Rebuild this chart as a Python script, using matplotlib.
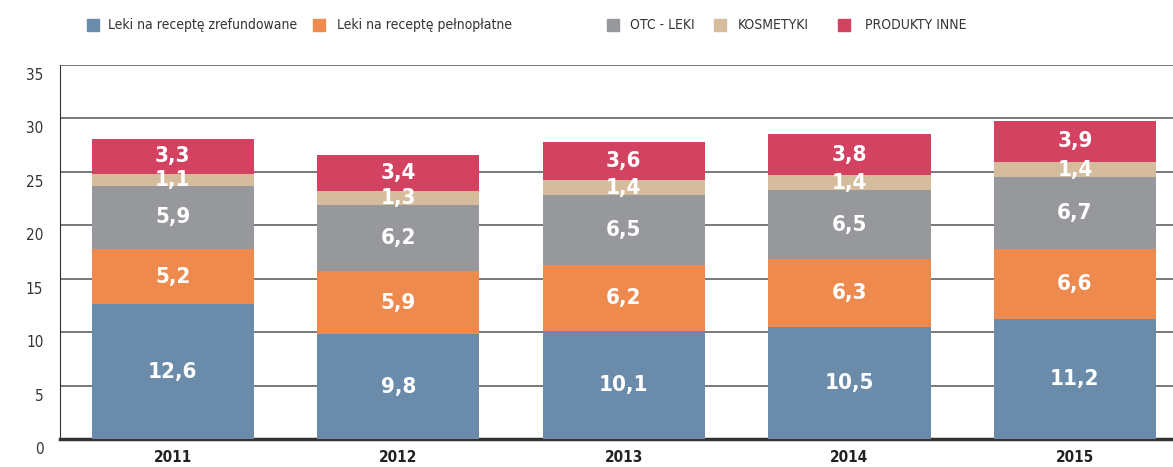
import matplotlib.pyplot as plt
import matplotlib.transforms as mtransforms
from matplotlib.patches import Rectangle
import numpy as np

years = ["2011", "2012", "2013", "2014", "2015"]
series_names = ["Leki na receptę zrefundowane", "Leki na receptę pełnopłatne",
                "OTC - LEKI", "KOSMETYKI", "PRODUKTY INNE"]
refund = [12.6, 9.8, 10.1, 10.5, 11.2]
full_pay = [5.2, 5.9, 6.2, 6.3, 6.6]
otc = [5.9, 6.2, 6.5, 6.5, 6.7]
cosmetics = [1.1, 1.3, 1.4, 1.4, 1.4]
other = [3.3, 3.4, 3.6, 3.8, 3.9]

colors = ["#6a8caa", "#ee8a4e", "#97989c", "#d4bc9c", "#d44262"]

plt.rcParams["font.family"] = ["DejaVu Sans"]
plt.rcParams["font.stretch"] = "condensed"

W, H = 1173, 467
fig = plt.figure(figsize=(W / 100, H / 100), dpi=100)
ax = fig.add_axes([60 / W, 1 - 439 / H, 1 - 60 / W, (439 - 65) / H])

x = np.arange(len(years))
bottom = np.zeros(len(years))
for name, vals, col in zip(series_names, [refund, full_pay, otc, cosmetics, other], colors):
    vals = np.array(vals)
    ax.bar(x, vals, width=0.72, bottom=bottom, color=col, label=name, zorder=3)
    for xi, b, v in zip(x, bottom, vals):
        ax.text(xi, b + v / 2, f"{v:.1f}".replace(".", ","), ha="center", va="center",
                color="white", fontsize=16, fontweight="bold", zorder=4)
    bottom += vals

ax.set_xlim(-0.5, 4.435)
ax.set_ylim(0, 35)
ax.set_yticks(range(0, 36, 5))
ax.yaxis.grid(True, color="#555555", linewidth=1.1, zorder=0)
ax.tick_params(length=0, labelsize=11, colors="#333333")
ax.tick_params(axis="y", pad=12)
ax.tick_params(axis="x", pad=8)
ax.set_xticks(x)
ax.set_xticklabels(years, fontweight="bold", fontsize=11, color="#222222")
# y labels sit just below their gridlines
offset = mtransforms.ScaledTranslation(0, -9 / 100, fig.dpi_scale_trans)
for lbl in ax.get_yticklabels():
    lbl.set_transform(lbl.get_transform() + offset)
for s in ["top", "right"]:
    ax.spines[s].set_visible(False)
ax.spines["left"].set_color("#333333")
ax.spines["bottom"].set_color("#333333")
ax.spines["bottom"].set_linewidth(2.5)

# legend drawn by hand to match spacing
sq_x = [87, 313, 607, 714, 838]
txt_x = [108, 337, 630, 738, 865]
ly = 25
for name, col, sx, tx in zip(series_names, colors, sq_x, txt_x):
    fig.patches.append(Rectangle((sx / W, 1 - (ly + 6) / H), 12 / W, 12 / H,
                                 transform=fig.transFigure, color=col))
    fig.text(tx / W, 1 - ly / H, name, ha="left", va="center", fontsize=10,
             color="#333333")

fig.savefig("out.png", dpi=100)
